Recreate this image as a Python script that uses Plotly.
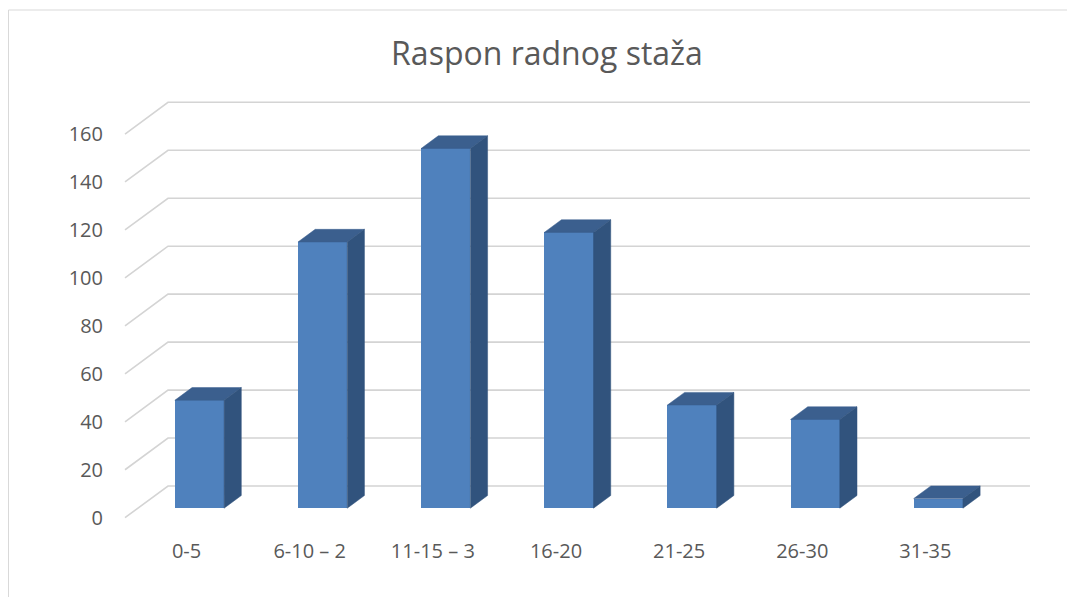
import plotly.graph_objects as go

# ---- data ----
categories = ["0-5", "6-10 – 2", "11-15 – 3", "16-20", "21-25", "26-30", "31-35"]
values = [45, 111, 150, 115, 43, 37, 4]
y_ticks = [0, 20, 40, 60, 80, 100, 120, 140, 160]
title_text = "Raspon radnog staža"

# ---- 3D-look geometry (oblique projection, in axis units) ----
OFF = 8                                        # page body margin compensation
W, H = 1075 - OFF, 597 - OFF
PL, PR, PT, PB = 110 - OFF, 1040 - OFF, 95 - OFF, 525 - OFF   # plot area px
CAT_PX = 123.14                                # px per category
FRONT_X0 = 125 - OFF                           # px of front-plane left edge
PX_PER_UNIT = 2.398                            # px per value unit
FRONT_Y0 = 517.7 - OFF                         # px of value 0 on front plane
DX = 43 / CAT_PX                               # full depth, x units
DY = 31.7 / PX_PER_UNIT                        # full depth, y units
BAR_W = 0.4
D0, D1 = 0.3, 0.7                              # bar depth span (fraction)

x_rng = [-0.5 + (PL - FRONT_X0) / CAT_PX, -0.5 + (PR - FRONT_X0) / CAT_PX]
y_rng = [(FRONT_Y0 - PB) / PX_PER_UNIT, (FRONT_Y0 - PT) / PX_PER_UNIT]

FRONT = "#4f81bd"
TOP = "#3b5f8e"
SIDE = "#31537d"
GRID = "#d4d4d4"
TEXT = "#595959"
FONT = "Open Sans"

n = len(categories)
xs = list(range(n))

fig = go.Figure()

# front faces (bars) placed at depth D0
fig.add_trace(go.Bar(
    x=[i + D0 * DX for i in xs],
    y=values,
    base=[D0 * DY] * n,
    width=BAR_W,
    marker=dict(color=FRONT, line=dict(width=0)),
    hoverinfo="skip",
    showlegend=False,
))

# top and side faces
dd = D1 - D0
for i, v in zip(xs, values):
    xl = i - BAR_W / 2 + D0 * DX
    xr = i + BAR_W / 2 + D0 * DX
    yb = D0 * DY
    yt = D0 * DY + v
    ox, oy = dd * DX, dd * DY
    fig.add_trace(go.Scatter(
        x=[xl, xr, xr + ox, xl + ox, xl],
        y=[yt, yt, yt + oy, yt + oy, yt],
        mode="lines", fill="toself", fillcolor=TOP,
        line=dict(color=TOP, width=0.5),
        hoverinfo="skip", showlegend=False,
    ))
    fig.add_trace(go.Scatter(
        x=[xr, xr, xr + ox, xr + ox, xr],
        y=[yb, yt, yt + oy, yb + oy, yb],
        mode="lines", fill="toself", fillcolor=SIDE,
        line=dict(color=SIDE, width=0.5),
        hoverinfo="skip", showlegend=False,
    ))

# gridlines: side wall (oblique) + back wall
shapes = []
for t in y_ticks:
    x0 = -0.5
    shapes.append(dict(
        type="path", xref="x", yref="y", layer="below",
        path=f"M {x0},{t} L {x0 + DX},{t + DY} L {n - 0.5 + DX},{t + DY}",
        line=dict(color=GRID, width=1.6),
    ))

# chart border
shapes.append(dict(
    type="rect", xref="paper", yref="paper", layer="below",
    x0=(0.5 - PL) / (PR - PL), x1=(1090 - PL) / (PR - PL),
    y0=(PB - 610) / (PB - PT), y1=(PB - (10 - OFF)) / (PB - PT),
    line=dict(color="#d9d9d9", width=1), fillcolor="rgba(0,0,0,0)",
))

fig.update_layout(
    width=W, height=H,
    margin=dict(l=PL, r=W - PR, t=PT, b=H - PB, pad=0),
    paper_bgcolor="white", plot_bgcolor="white",
    title=dict(text=title_text, x=(547 - OFF) / W, xanchor="center", xref="container",
               y=1 - (54 - OFF) / H, yanchor="middle", yref="container",
               font=dict(family=FONT, size=32, color=TEXT)),
    font=dict(family=FONT, size=20, color=TEXT),
    shapes=shapes,
    xaxis=dict(range=x_rng, tickvals=xs, ticktext=categories, showgrid=False,
               zeroline=False, showline=False, ticks="", ticklabelstandoff=12,
               tickfont=dict(family=FONT, size=20, color=TEXT), fixedrange=True),
    yaxis=dict(range=y_rng, tickvals=y_ticks, showgrid=False, zeroline=False,
               showline=False, ticks="", ticklabelstandoff=6,
               tickfont=dict(family=FONT, size=20, color=TEXT), fixedrange=True),
    bargap=0,
)

fig.write_html("out.html")
